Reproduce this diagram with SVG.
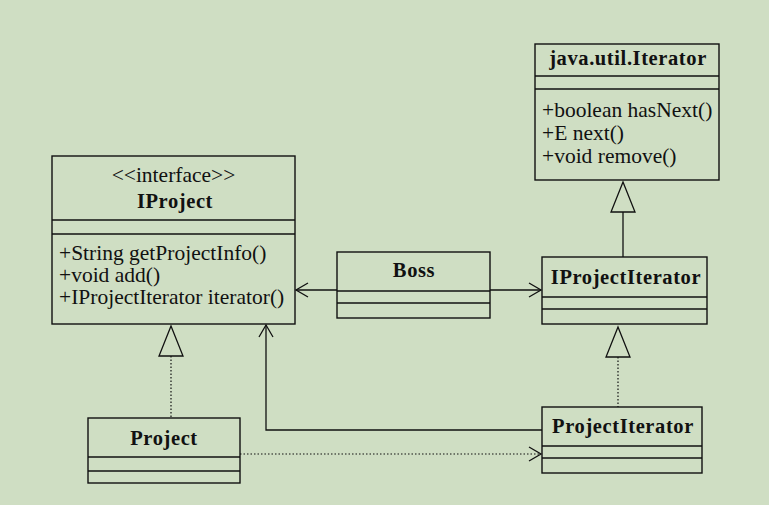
<svg xmlns="http://www.w3.org/2000/svg" width="769" height="505" viewBox="0 0 769 505">
<style>
.box{fill:none;stroke:#111;stroke-width:1.4}
.ln{fill:none;stroke:#111;stroke-width:1.3}
.dot{fill:none;stroke:#111;stroke-width:1.2;stroke-dasharray:1.5 2}
.tri{fill:#cfdec3;stroke:#111;stroke-width:1.3}
.t{font-family:"Liberation Serif","Times New Roman",serif;font-size:21.5px;fill:#111}
.b{font-family:"Liberation Serif","Times New Roman",serif;font-size:20.5px;font-weight:bold;fill:#111;text-anchor:middle;letter-spacing:0.6px}
.c{text-anchor:middle}
</style>
<rect width="769" height="505" fill="#cfdec3"/>
<g id="connectors">
<line class="ln" x1="337" y1="290" x2="296" y2="290"/>
<polyline class="ln" points="308,283 296,290 308,297"/>
<line class="ln" x1="490" y1="290" x2="541" y2="290"/>
<polyline class="ln" points="529,283 541,290 529,297"/>
<line class="ln" x1="623" y1="212" x2="623" y2="257"/>
<polygon class="tri" points="623,182 611,212 635,212"/>
<line class="dot" x1="618" y1="357" x2="618" y2="407"/>
<polygon class="tri" points="618,327 606,357 630,357"/>
<line class="dot" x1="171" y1="356" x2="171" y2="418"/>
<polygon class="tri" points="171,326 159,356 183,356"/>
<polyline class="ln" points="542,430 266,430 266,325"/>
<polyline class="ln" points="259,337 266,325 273,337"/>
<line class="dot" x1="240" y1="454" x2="541" y2="454"/>
<polyline class="ln" points="529,447 541,454 529,461"/>
</g>
<g id="IProject">
<rect class="box" x="52" y="156" width="243" height="168"/>
<line class="box" x1="52" y1="220" x2="295" y2="220"/>
<line class="box" x1="52" y1="234" x2="295" y2="234"/>
<text class="t c" x="173.5" y="182">&lt;&lt;interface&gt;&gt;</text>
<text class="b" x="175" y="208">IProject</text>
<text class="t" x="59" y="260">+String getProjectInfo()</text>
<text class="t" x="59" y="282">+void add()</text>
<text class="t" x="59" y="304">+IProjectIterator iterator()</text>
</g>
<g id="JavaUtilIterator">
<rect class="box" x="535" y="44" width="184" height="136"/>
<line class="box" x1="535" y1="76" x2="719" y2="76"/>
<line class="box" x1="535" y1="89" x2="719" y2="89"/>
<text class="b" x="628" y="65">java.util.Iterator</text>
<text class="t" x="542" y="117">+boolean hasNext()</text>
<text class="t" x="542" y="140">+E next()</text>
<text class="t" x="542" y="163">+void remove()</text>
</g>
<g id="Boss">
<rect class="box" x="337" y="252" width="153" height="66"/>
<line class="box" x1="337" y1="291" x2="490" y2="291"/>
<line class="box" x1="337" y1="303" x2="490" y2="303"/>
<text class="b" x="414" y="277">Boss</text>
</g>
<g id="IProjectIterator">
<rect class="box" x="542" y="257" width="165" height="67"/>
<line class="box" x1="542" y1="297" x2="707" y2="297"/>
<line class="box" x1="542" y1="309" x2="707" y2="309"/>
<text class="b" x="626" y="284">IProjectIterator</text>
</g>
<g id="ProjectIterator">
<rect class="box" x="542" y="407" width="160" height="66"/>
<line class="box" x1="542" y1="446" x2="702" y2="446"/>
<line class="box" x1="542" y1="458" x2="702" y2="458"/>
<text class="b" x="623" y="433">ProjectIterator</text>
</g>
<g id="Project">
<rect class="box" x="88" y="418" width="152" height="65"/>
<line class="box" x1="88" y1="457" x2="240" y2="457"/>
<line class="box" x1="88" y1="471" x2="240" y2="471"/>
<text class="b" x="164" y="445">Project</text>
</g>
</svg>
